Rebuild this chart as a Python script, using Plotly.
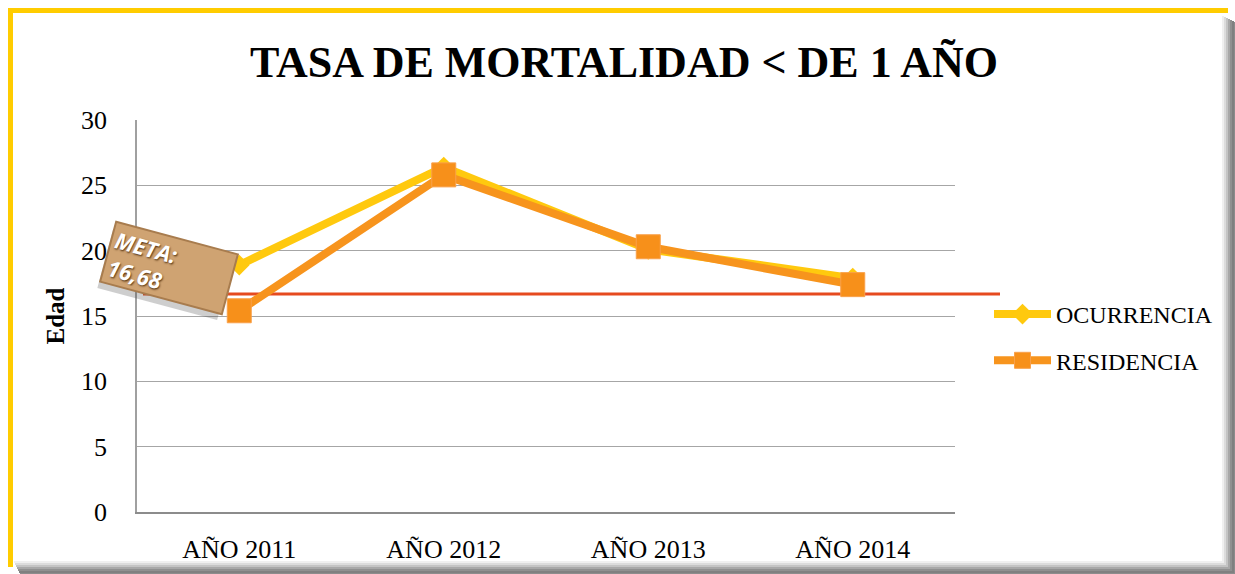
import plotly.graph_objects as go

# ---- data ----
categories = ["AÑO 2011", "AÑO 2012", "AÑO 2013", "AÑO 2014"]
ocurrencia = [18.9, 26.4, 20.1, 17.9]
residencia = [15.4, 25.8, 20.3, 17.4]
meta_value = 16.68
meta_label = "META:<br>16,68"
y_ticks = [0, 5, 10, 15, 20, 25, 30]

# ---- layout geometry (pixels) ----
W, H = 1235, 574
L, R, T, B = 137, 955, 120, 512   # plot area edges


def px(x):
    return (x - L) / (R - L)


def py(y):
    return (B - y) / (B - T)


SERIF = "Liberation Serif"

fig = go.Figure()
fig.add_trace(go.Scatter(
    x=categories, y=ocurrencia, name="OCURRENCIA", mode="lines+markers",
    line=dict(color="#FFC90E", width=8),
    marker=dict(symbol="diamond", size=16, color="#FFC90E"),
    legendgroup="a",
))
fig.add_trace(go.Scatter(
    x=categories, y=residencia, name="RESIDENCIA", mode="lines+markers",
    line=dict(color="#F7941D", width=8),
    marker=dict(symbol="square", size=24, color="#F7901A",
                line=dict(color="#F9A04A", width=1)),
    legendgroup="b",
))

shapes = []
# meta line
shapes.append(dict(type="line", xref="paper", yref="y",
                   x0=px(143), x1=px(1000), y0=meta_value, y1=meta_value,
                   line=dict(color="#E64A1F", width=3), layer="below"))

# frame: yellow top/left border
shapes.append(dict(type="rect", xref="paper", yref="paper",
                   x0=px(8), x1=px(1228), y0=py(8), y1=py(13),
                   fillcolor="#FFCC00", line=dict(width=0)))
shapes.append(dict(type="rect", xref="paper", yref="paper",
                   x0=px(8), x1=px(13), y0=py(8), y1=py(567),
                   fillcolor="#FFCC00", line=dict(width=0)))
# gray shadow right/bottom (stepped gradient)
grays = ["#f0f0f0", "#dcdcdc", "#c4c4c4", "#a8a8a8", "#909090", "#808080", "#8c8c8c"]
for i, g in enumerate(grays):
    x0 = 1222 + i * 2
    shapes.append(dict(type="rect", xref="paper", yref="paper",
                       x0=px(x0), x1=px(x0 + 2), y0=py(16 + i), y1=py(574),
                       fillcolor=g, line=dict(width=0)))
    y0 = 561 + i * 2
    shapes.append(dict(type="rect", xref="paper", yref="paper",
                       x0=px(14 + i), x1=px(1235), y0=py(y0), y1=py(y0 + 2),
                       fillcolor=g, line=dict(width=0)))

meta_font = dict(family="Open Sans", size=22, style="italic", weight="bold")
annotations = [
    # drop shadow of the label
    dict(xref="paper", yref="paper", x=px(165), y=py(275),
         xanchor="center", yanchor="middle", showarrow=False,
         text=meta_label, align="left", textangle=15,
         width=118, height=54, borderpad=3,
         bgcolor="rgba(60,60,60,0.25)", borderwidth=0,
         font=dict(meta_font, color="rgba(0,0,0,0)")),
    dict(xref="paper", yref="paper", x=px(169), y=py(268),
         xanchor="center", yanchor="middle", showarrow=False,
         text=meta_label, align="left", textangle=15,
         width=118, height=54, borderpad=3,
         bgcolor="#CFA372", bordercolor="#A87C4E", borderwidth=2,
         font=dict(meta_font, color="white",
                   shadow="1px 1px 2px rgba(70,35,0,0.9)")),
]

fig.update_layout(
    width=W, height=H,
    margin=dict(l=L, r=W - R, t=T, b=H - B, pad=0, autoexpand=False),
    paper_bgcolor="white", plot_bgcolor="white",
    title=dict(text="<b>TASA DE MORTALIDAD < DE 1 AÑO</b>",
               xref="container", x=624 / W, xanchor="center",
               yref="container", y=1 - 62 / H, yanchor="middle",
               font=dict(family=SERIF, size=44, color="black")),
    xaxis=dict(type="category", range=[-0.5, 3.5], showgrid=False,
               showline=True, linecolor="#8c8c8c", linewidth=1.5,
               ticks="outside", ticklen=13, tickcolor="rgba(0,0,0,0)",
               tickfont=dict(family=SERIF, size=26, color="black"),
               zeroline=False, automargin=False),
    yaxis=dict(range=[0, 30], tickvals=y_ticks, showgrid=True,
               gridcolor="#a6a6a6", gridwidth=1.3,
               showline=True, linecolor="#a0a0a0", linewidth=1.5,
               ticks="outside", ticklen=23, tickcolor="rgba(0,0,0,0)",
               tickfont=dict(family=SERIF, size=26, color="black"),
               zeroline=False, automargin=False,
               title=dict(text="<b>Edad</b>", standoff=9,
                          font=dict(family=SERIF, size=25, color="black"))),
    legend=dict(x=px(989), xanchor="left", y=py(292), yanchor="top",
                font=dict(family=SERIF, size=24, color="black"),
                tracegroupgap=12, itemwidth=57, bgcolor="rgba(0,0,0,0)"),
    shapes=shapes,
    annotations=annotations,
)

fig.write_html(
    "out.html",
    config={"displayModeBar": False},
    post_script="document.body.style.margin='0';document.body.style.overflow='hidden';",
)
